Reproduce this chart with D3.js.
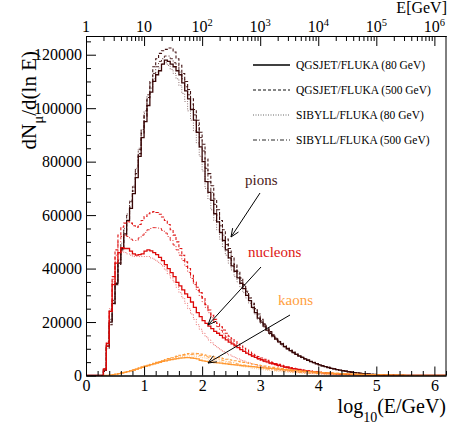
<!DOCTYPE html>
<html><head><meta charset="utf-8">
<script src="https://cdn.jsdelivr.net/npm/d3@7"></script>
<style>body{margin:0;background:#fff}svg{display:block}
svg text{font-family:"Liberation Serif","Times New Roman",Times,"DejaVu Serif",serif !important;}</style>
</head><body><svg id="c" width="452" height="428"></svg>
<script>
// histogram binning in log10(E/GeV): first bin lower edge and bin width
const binStart = 0.30, binWidth = 0.05;

// Pions
const pionQGS80 = [2000,11000,20000,27000,34500,42000,47500,53000,58000,62500,68000,74000,82000,89000,95000,101000,106000,110000,112500,114000,116500,118000,117500,116500,115500,114000,112500,109500,106500,103500,99500,95500,91000,85500,80000,72500,68500,65500,60500,57500,53500,50500,47000,44000,41000,39000,36500,34500,32500,30000,28000,25500,23500,21500,20000,18500,17000,15800,14700,13600,12600,11700,10800,10000,9300,8600,7900,7300,6800,6200,5700,5200,4800,4400,4000,3600,3300,3000,2700,2450,2200,2000,1800,1600,1400,1250,1100,950,830,720,620,530,450,380,320,270,220,180,150,120,100,80,60,50];
const pionQGS500 = [1500,10000,19000,26500,34000,41500,47000,52500,58000,63000,69000,75500,83000,90500,97000,104000,110000,115500,118500,120500,121500,122000,122500,122500,121000,118500,116000,113000,110000,107000,103500,99500,95500,91000,86500,81000,75500,71000,66000,62000,58000,54500,51000,47500,44500,41500,39000,36500,34000,31500,29000,27000,25000,23000,21000,19300,17800,16400,15200,14000,13000,12000,11100,10300,9500,8800,8100,7500,6900,6300,5800,5300,4900,4500,4100,3700,3350,3050,2750,2500,2250,2030,1820,1620,1430,1270,1120,970,840,730,630,540,460,390,330,275,225,185,150,120,100,80,60,50];
const pionSIB80 = [2500,12000,21000,28500,36000,43500,49500,55000,60500,65500,71000,77500,85000,92000,98000,103500,107500,111000,113500,115000,116500,117000,116000,114500,113000,111000,108500,105500,102500,99000,95500,91500,87000,82000,76500,70000,66000,62000,58000,54500,51000,48000,45000,42000,39500,37000,35000,33000,31000,29000,27000,25000,23000,21000,19500,18000,16600,15400,14300,13300,12300,11400,10600,9800,9100,8400,7800,7200,6600,6100,5600,5100,4700,4300,3900,3550,3250,2950,2650,2400,2180,1970,1770,1580,1400,1240,1090,950,820,710,610,520,440,370,310,260,215,175,145,115,95,75,60,45];
const pionSIB500 = [2000,11500,20500,28000,35500,43000,49000,54500,60000,65000,70500,77000,84500,92000,99000,105000,109500,113000,115500,117500,118500,119500,119500,118500,117000,115500,113500,111000,108000,105000,101500,97500,93500,89000,84000,77500,72500,68500,64000,60000,56000,52500,49000,46000,43000,40500,38000,35500,33500,31000,29000,26500,24500,22500,20500,19000,17500,16200,15000,13900,12800,11900,11000,10200,9400,8700,8000,7400,6850,6250,5750,5250,4850,4450,4050,3650,3320,3020,2720,2470,2220,2010,1810,1610,1420,1260,1110,960,835,725,625,535,455,385,325,270,220,180,150,120,100,80,60,50];

// Nucleons
const nucQGS80 = [2500,12000,24000,34000,42000,46000,47800,47500,47500,46500,45500,45000,45200,45500,46500,47000,46600,46000,45200,44200,43000,41500,40000,38500,37000,34800,33500,32000,30500,29200,27500,25500,23500,22000,20500,19500,18500,17500,16500,15800,15000,14100,13300,12500,11800,11100,10400,9700,9000,8400,7800,7300,6800,6300,5900,5500,5100,4750,4400,4100,3800,3500,3250,3000,2750,2550,2350,2150,1980,1820,1670,1530,1400,1280,1160,1050,950,860,770,690,620,550,490,430,380,330,290,250,215,185,160,135,115,95,80,65,55,45,35,30,25,20,15,10];
const nucQGS500 = [2000,11000,24000,37000,47000,52500,55500,57000,57500,57000,56000,55500,56500,58000,59500,60500,61000,61300,61000,60300,59300,58000,56500,54500,52500,50000,47500,45000,42500,40000,37500,35000,33000,31000,29000,26500,24500,22500,21000,19500,18200,17000,15800,14700,13700,12700,11800,11000,10200,9500,8800,8200,7600,7050,6550,6100,5650,5250,4850,4500,4150,3850,3550,3250,3000,2750,2550,2350,2150,1970,1800,1650,1510,1380,1250,1130,1020,920,830,740,660,590,520,460,400,350,305,265,230,195,170,145,120,100,85,70,58,47,38,31,25,20,16,12];
const nucSIB80 = [2500,12500,25000,35000,42500,45500,46500,46000,45500,45000,44500,44500,44500,44500,44500,44500,44000,43500,42800,42000,41000,39500,38000,36500,35000,33000,31000,29000,27000,25000,23000,21000,19000,17300,15800,14500,13300,12200,11200,10400,9600,8900,8300,7700,7200,6700,6200,5800,5400,5000,4650,4300,4000,3700,3450,3200,2950,2750,2550,2350,2150,2000,1850,1700,1560,1440,1320,1210,1110,1020,930,850,780,710,650,590,530,480,430,390,350,310,275,245,215,190,165,145,125,108,93,80,68,58,49,41,34,28,23,19,15,12,10,8];
const nucSIB500 = [2000,11500,24500,36000,45000,50000,52000,52500,52000,51000,50500,50500,51500,52500,53500,54500,55000,55300,55300,55000,54300,53300,52000,50500,48800,47000,45000,43000,40800,38600,36300,34000,31800,29700,27600,25500,23500,21600,19900,18300,16900,15600,14400,13300,12300,11400,10500,9700,9000,8300,7700,7100,6600,6100,5650,5200,4800,4450,4100,3800,3500,3250,3000,2750,2550,2350,2150,1980,1820,1670,1530,1400,1280,1170,1060,960,870,780,700,630,560,500,445,395,350,305,265,230,200,172,148,126,107,90,76,63,52,43,35,28,23,18,14,11];

// Kaons
const kaonQGS80 = [0,0,100,300,500,700,950,1200,1450,1750,2050,2400,2750,3100,3400,3750,4050,4350,4650,4950,5250,5500,5750,5950,6150,6350,6500,6600,6650,6650,6550,6400,6200,5700,5450,5250,5100,4950,4850,4700,4600,4450,4350,4200,4100,3950,3850,3700,3600,3500,3400,3300,3200,3050,2950,2850,2750,2650,2550,2450,2350,2250,2150,2050,1950,1850,1750,1660,1580,1500,1420,1340,1270,1200,1130,1060,1000,940,880,820,770,720,670,620,580,540,500,460,425,390,360,330,300,275,250,228,207,188,170,153,138,124,111,100];
const kaonQGS500 = [0,0,100,300,500,750,1000,1250,1500,1800,2100,2450,2800,3150,3500,3850,4200,4550,4900,5250,5600,5950,6300,6650,7000,7300,7600,7850,8050,8200,8300,8300,8200,8000,7800,7550,7300,7100,6900,6700,6500,6300,6100,5900,5700,5500,5300,5100,4900,4700,4500,4300,4100,3900,3700,3500,3350,3200,3050,2900,2750,2600,2450,2320,2190,2060,1940,1830,1720,1620,1520,1430,1340,1260,1180,1100,1030,960,900,840,780,730,680,630,585,545,505,465,430,395,365,335,305,280,255,232,210,190,172,155,140,126,113,101];
const kaonSIB80 = [0,0,100,300,500,700,950,1200,1450,1750,2050,2350,2700,3000,3350,3650,4000,4300,4600,4900,5200,5500,5800,6100,6350,6600,6850,7050,7200,7300,7300,7250,7100,6900,6650,6400,6150,5900,5650,5400,5150,4900,4650,4400,4150,3900,3700,3500,3300,3100,2900,2720,2550,2400,2250,2100,1970,1840,1720,1610,1500,1400,1300,1210,1130,1050,975,905,840,780,720,665,615,570,525,485,445,410,375,345,315,290,265,240,220,200,182,165,150,135,122,110,99,89,80,72,64,57,51,45,40,35,31,27];
const kaonSIB500 = [0,0,100,300,500,750,1000,1250,1500,1800,2100,2400,2750,3100,3450,3800,4150,4500,4850,5200,5550,5900,6200,6500,6800,7100,7350,7550,7700,7800,7850,7800,7700,7500,7300,7050,6800,6550,6300,6050,5800,5550,5300,5050,4800,4550,4300,4100,3900,3700,3500,3300,3100,2920,2750,2580,2420,2270,2130,2000,1870,1750,1640,1530,1430,1340,1250,1160,1080,1010,940,870,810,750,700,650,600,555,515,475,440,405,375,345,318,292,268,246,226,207,190,174,159,145,133,121,110,100,91,83,75,68,62,56];

const xTicks = [0,1,2,3,4,5,6];
const yTicks = [0,20000,40000,60000,80000,100000,120000];
const topExponents = [0,1,2,3,4,5,6];
const legendLabels = ["QGSJET/FLUKA (80 GeV)","QGSJET/FLUKA (500 GeV)","SIBYLL/FLUKA (80 GeV)","SIBYLL/FLUKA (500 GeV)"];
const groupNames = ["pions","nucleons","kaons"];

const FONT = '"Liberation Serif","Times New Roman",Times,"DejaVu Serif",serif';
const colors = {pions:"#3a0808", nucleons:"#dd0a0a", kaons:"#ff9933"};
const textColors = {pions:"#4a1a1a", nucleons:"#dd1515", kaons:"#ffa040"};
const styles = [
  {dash:null, w:1.3, op:1},
  {dash:"3,2", w:1.1, op:0.95},
  {dash:"1,1.5", w:1.0, op:0.6},
  {dash:"4,2,1,2", w:1.0, op:0.85}
];

const svg = d3.select("#c");
const L = 86, R = 446, T = 36, B = 375.5;
const x = d3.scaleLinear().domain([0, 6.2]).range([L, R]);
const y = d3.scaleLinear().domain([0, 127000]).range([B, T]);
const xTop = d3.scaleLog().domain([1, Math.pow(10, 6.2)]).range([L, R]);

svg.append("defs").append("clipPath").attr("id","clip")
  .append("rect").attr("x",L).attr("y",T).attr("width",R-L).attr("height",B-T);

const series = [
  {g:"pions", data:[pionQGS80,pionQGS500,pionSIB80,pionSIB500]},
  {g:"nucleons", data:[nucQGS80,nucQGS500,nucSIB80,nucSIB500]},
  {g:"kaons", data:[kaonQGS80,kaonQGS500,kaonSIB80,kaonSIB500]}
];

const line = d3.line().x(d=>x(d[0])).y(d=>y(d[1])).curve(d3.curveStepAfter);
function pts(vals, fromZero){
  const p = [];
  if (fromZero) p.push([0,0]);
  vals.forEach((v,i)=>p.push([binStart + i*binWidth, v]));
  p.push([binStart + vals.length*binWidth, 0]);
  p.push([6.2, 0]);
  return p;
}
const plot = svg.append("g").attr("clip-path","url(#clip)");
series.forEach(s=>{
  s.data.forEach((vals,k)=>{
    const st = styles[k];
    plot.append("path").attr("d", line(pts(vals, s.g!=="kaons")))
      .attr("fill","none").attr("stroke", colors[s.g])
      .attr("stroke-width", st.w).attr("stroke-opacity", st.op)
      .attr("stroke-dasharray", st.dash);
  });
});

// axes
function styleAxis(g){
  g.attr("font-family", null);
  g.select(".domain").attr("stroke","#000").attr("stroke-width",1);
  g.selectAll(".tick line").attr("stroke","#000").attr("stroke-width",1);
  g.selectAll("text").style("font-family",FONT).attr("fill","#000");
}
const xMinor = d3.range(0, 6.21, 0.2).filter(v=>Math.abs(v-Math.round(v))>1e-6);
svg.append("g").attr("transform",`translate(0,${B})`)
  .call(d3.axisBottom(x).tickValues(xMinor).tickSize(-4.5).tickFormat("").tickSizeOuter(0))
  .call(styleAxis);
svg.append("g").attr("transform",`translate(0,${B})`)
  .call(d3.axisBottom(x).tickValues(xTicks).tickSize(-9).tickSizeOuter(0).tickPadding(4).tickFormat(d3.format("d")))
  .call(styleAxis).call(g=>g.selectAll("text").attr("font-size",16));

const yMinor = d3.range(0, 127001, 5000).filter(v=>v%20000!==0);
svg.append("g").attr("transform",`translate(${L},0)`)
  .call(d3.axisLeft(y).tickValues(yMinor).tickSize(-5).tickFormat("").tickSizeOuter(0))
  .call(styleAxis);
svg.append("g").attr("transform",`translate(${L},0)`)
  .call(d3.axisLeft(y).tickValues(yTicks).tickSize(-10).tickSizeOuter(0).tickPadding(4).tickFormat(d3.format("d")))
  .call(styleAxis).call(g=>g.selectAll("text").attr("font-size",16));

// top log axis
const topMinor = [];
for (let e=0;e<=6;e++) for (let m=2;m<=9;m++){ const v=m*Math.pow(10,e); if (v<=Math.pow(10,6.2)) topMinor.push(v); }
const topMajor = topExponents.map(e=>Math.pow(10,e));
svg.append("g").attr("transform",`translate(0,${T})`)
  .call(d3.axisTop(xTop).tickValues(topMinor).tickSize(-5).tickFormat("").tickSizeOuter(0))
  .call(styleAxis);
svg.append("g").attr("transform",`translate(0,${T})`)
  .call(d3.axisTop(xTop).tickValues(topMajor).tickSize(-10).tickFormat("").tickSizeOuter(0))
  .call(styleAxis);
topExponents.forEach(e=>{
  const t = svg.append("text").attr("x", xTop(Math.pow(10,e))).attr("y", 32)
    .attr("text-anchor","middle").style("font-family",FONT).attr("font-size",16).attr("fill","#000");
  if (e===0) t.text("1");
  else if (e===1) t.text("10");
  else { t.append("tspan").text("10"); t.append("tspan").attr("dy",-6).attr("font-size",10.5).text(e); }
});
svg.append("text").attr("x",R+1).attr("y",13).attr("text-anchor","end")
  .style("font-family",FONT).attr("font-size",16).text("E[GeV]");

// right frame
svg.append("line").attr("x1",R).attr("x2",R).attr("y1",T).attr("y2",B).attr("stroke","#000");

// axis titles
const xt = svg.append("text").attr("x",R).attr("y",413).attr("text-anchor","end")
  .style("font-family",FONT).attr("font-size",20);
xt.append("tspan").text("log");
xt.append("tspan").attr("dy",9).attr("font-size",14).text("10");
xt.append("tspan").attr("dy",-9).text("(E/GeV)");

const yt = svg.append("text").attr("transform","translate(36,51) rotate(-90)").attr("text-anchor","end")
  .style("font-family",FONT).attr("font-size",21);
yt.append("tspan").text("dN");
yt.append("tspan").attr("dy",7).attr("font-size",15).text("μ");
yt.append("tspan").attr("dy",-7).text("/d(ln E)");

// legend
legendLabels.forEach((lab,i)=>{
  const yy = 65 + i*25;
  const st = styles[i];
  svg.append("line").attr("x1",253).attr("x2",290).attr("y1",yy).attr("y2",yy)
    .attr("stroke","#000").attr("stroke-width",st.w).attr("stroke-opacity",st.op)
    .attr("stroke-dasharray",st.dash);
  svg.append("text").attr("x",296).attr("y",yy+4).style("font-family",FONT)
    .attr("font-size",11.5).attr("fill","#000").text(lab);
});

// annotations
const ann = [
  {g:"pions", tx:245, ty:185, a:[260,193,231,237]},
  {g:"nucleons", tx:248, ty:257, a:[261,267,208,325]},
  {g:"kaons", tx:278, ty:305, a:[290,315,208,363]}
];
ann.forEach(a=>{
  svg.append("text").attr("x",a.tx).attr("y",a.ty).style("font-family",FONT)
    .attr("font-size",15).attr("fill",textColors[a.g]).text(a.g);
  const [x1,y1,x2,y2] = a.a;
  svg.append("line").attr("x1",x1).attr("y1",y1).attr("x2",x2).attr("y2",y2).attr("stroke","#000").attr("stroke-width",1);
  const ang = Math.atan2(y1-y2, x1-x2), hl = 9, ha = 0.4;
  [ang-ha, ang+ha].forEach(t=>{
    svg.append("line").attr("x1",x2).attr("y1",y2)
      .attr("x2",x2+hl*Math.cos(t)).attr("y2",y2+hl*Math.sin(t)).attr("stroke","#000").attr("stroke-width",1);
  });
});
</script></body></html>
